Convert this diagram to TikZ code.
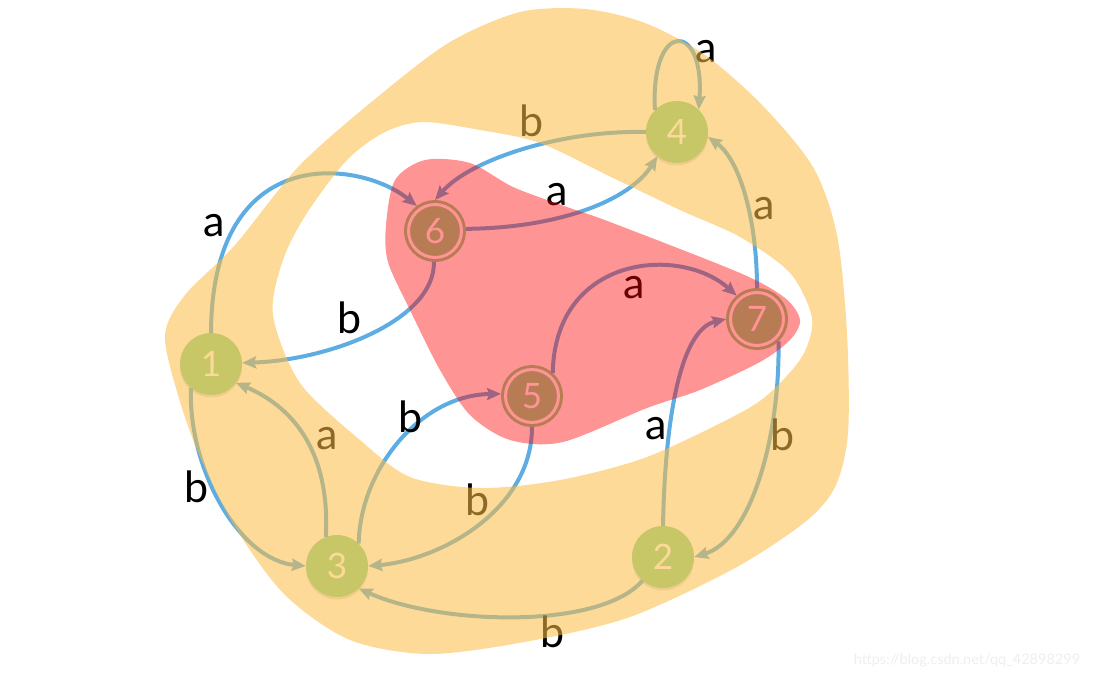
\documentclass[tikz,border=0pt]{standalone}
\usepackage{fontspec}
\setmainfont{Lato}
\usetikzlibrary{arrows.meta,shadows}
\definecolor{edgeblue}{RGB}{93,173,226}
\definecolor{stategreen}{RGB}{134,214,148}
\definecolor{ringyellow}{RGB}{252,189,70}
\definecolor{marklight}{RGB}{238,238,238}
\tikzstyle{line} = [draw=edgeblue, line width=4pt, -{Stealth[length=14pt,width=12pt,inset=2pt]}]
\tikzstyle{state} = [circle, fill=stategreen, inner sep=0pt, minimum size=62pt, text=white, font=\fontsize{35}{35}\selectfont, drop shadow={shadow xshift=0pt, shadow yshift=-2.5pt, opacity=0.25}]
\tikzstyle{accept} = [state, draw=stategreen, line width=3pt, double=white, double distance=3pt, minimum size=53pt, outer sep=4.5pt]
\tikzstyle{lbl} = [inner sep=0pt, font=\fontsize{43}{43}\selectfont]

\begin{document}
\begin{tikzpicture}[x=1pt, y=-1pt]
    \useasboundingbox (0,0) rectangle (1097,678);

    \node[state] (n1) at (211, 364) {1};
    \node[state] (n2) at (663, 557) {2};
    \node[state] (n3) at (337, 566) {3};
    \node[state] (n4) at (677, 132) {4};
    \node[accept] (n5) at (532, 396) {5};
    \node[accept] (n6) at (435, 231) {6};
    \node[accept] (n7) at (757, 319) {7};

    \path [line] (n1.90) .. controls (212, 140) and (360, 160) .. (n6.126);
    \path [line] (n6.268) .. controls (435, 320) and (330, 360) .. (n1.2);
    \path [line] (n1.230) .. controls (188, 470) and (240, 560) .. (n3.180);
    \path [line] (n3.111) .. controls (330, 460) and (300, 410) .. (n1.323);
    \path [line] (n3.46) .. controls (360, 470) and (420, 395) .. (n5.176);
    \path [line] (n5.270) .. controls (532, 510) and (440, 560) .. (n3.0);
    \path [line] (n5.48) .. controls (555, 255) and (680, 245) .. (n7.131);
    \path [line] (n2.90) .. controls (665, 420) and (680, 330) .. (n7.180);
    \path [line] (n7.90) .. controls (757, 220) and (740, 160) .. (n4.351);
    \path [line] (n7.314) .. controls (780, 440) and (750, 540) .. (n2.0);
    \path [line] (n2.229) .. controls (600, 630) and (440, 625) .. (n3.314);
    \path [line] (n4.180) .. controls (560, 130) and (470, 160) .. (n6.90);
    \path [line] (n6.4) .. controls (560, 228) and (630, 200) .. (n4.231);
    \path [line] (n4.135) .. controls (650, 20) and (705, 20) .. (n4.46);

    \node[lbl] (l16) at (214, 226) {a};
    \node[lbl] (l61) at (350, 318) {b};
    \node[lbl] (l13) at (197, 487) {b};
    \node[lbl] (l31) at (327, 439) {a};
    \node[lbl] (l35) at (411, 417) {b};
    \node[lbl] (l53) at (478, 500) {b};
    \node[lbl] (l57) at (634, 288) {a};
    \node[lbl] (l27) at (656, 429) {a};
    \node[lbl] (l74) at (764, 209) {a};
    \node[lbl] (l72) at (783, 435) {b};
    \node[lbl] (l23) at (553, 632) {b};
    \node[lbl] (l46) at (532, 121) {b};
    \node[lbl] (l64) at (557, 195) {a};
    \node[lbl] (l44) at (706, 52) {a};

    % coloured regions laid over the automaton
    \fill[ringyellow, fill opacity=0.56, even odd rule]
        plot[smooth cycle] coordinates {(165,335) (185,295) (235,245) (300,165) (380,95) (450,42) (520,12) (585,9) (645,23) (705,55) (762,105) (813,167) (837,235) (847,333) (848,433) (835,487) (805,522) (735,568) (630,617) (530,641) (430,654) (350,640) (285,595) (235,527) (200,457) (178,395)}
        plot[smooth cycle] coordinates {(273,315) (283,260) (307,213) (347,160) (385,132) (423,122) (480,130) (540,143) (613,178) (680,210) (740,237) (790,273) (812,318) (803,355) (773,390) (740,413) (647,457) (560,480) (480,488) (410,477) (360,440) (300,383)};
    \fill[red, fill opacity=0.42]
        plot[smooth cycle] coordinates {(386,225) (395,180) (425,160) (470,163) (513,187) (567,207) (610,222) (740,273) (785,298) (800,320) (790,340) (760,362) (700,390) (647,408) (563,442) (510,440) (470,415) (440,370) (410,310) (388,262)};

    \node[text=marklight, font=\fontsize{14.5}{14.5}\selectfont] (mark) at (967, 660) {https://blog.csdn.net/qq\_42898299};
\end{tikzpicture}
\end{document}
